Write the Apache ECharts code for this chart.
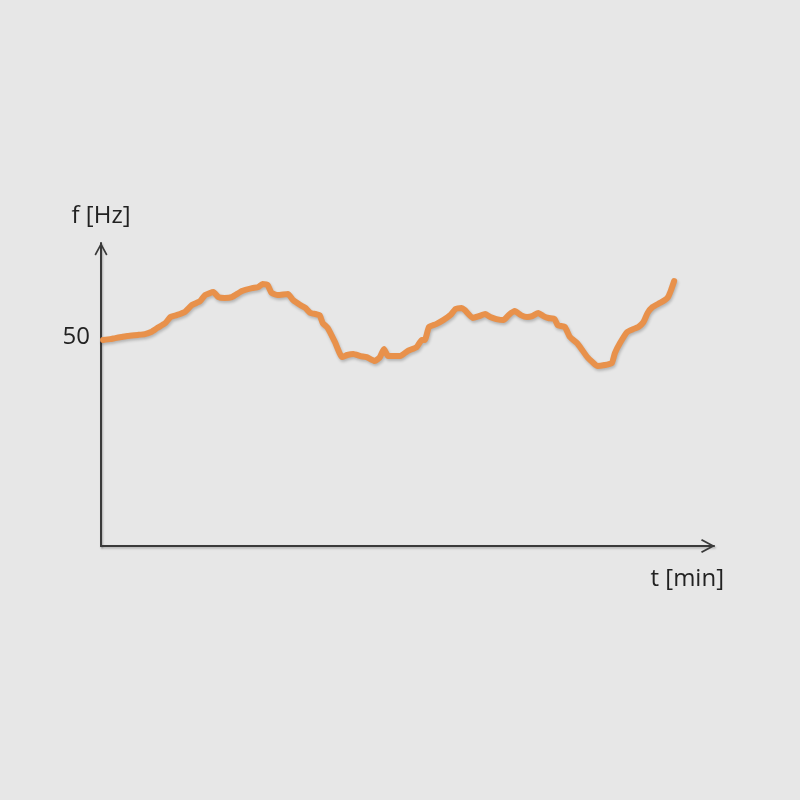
<!DOCTYPE html>
<html>
<head>
<meta charset="utf-8">
<script src="https://cdn.jsdelivr.net/npm/echarts@6/dist/echarts.min.js"></script>
<style>
html,body{margin:0;padding:0;background:#e7e7e7;}
#chart{width:800px;height:800px;}
</style>
</head>
<body>
<div id="chart"></div>
<script>
// time in minutes
var timeMin = [0.2,0.9,1.4,2.0,2.6,3.6,4.3,4.9,5.5,6.3,6.8,7.4,8.2,8.9,9.7,10.2,11.0,11.5,12.1,12.8,13.8,14.8,15.4,15.8,16.3,16.7,17.3,18.3,18.8,19.5,20.0,20.5,21.0,21.4,21.7,22.2,22.9,23.6,24.1,24.7,25.4,26.0,26.8,27.3,27.7,28.1,28.8,29.3,30.0,30.9,31.4,31.7,32.1,32.8,33.5,34.2,34.7,35.3,35.6,36.4,37.0,37.6,38.1,38.7,39.4,39.9,40.5,41.1,41.7,42.2,42.8,43.3,43.8,44.4,44.7,45.4,45.9,46.6,47.1,47.6,48.1,48.6,49.3,50.0,50.3,50.8,51.5,52.1,52.6,53.1,53.5,54.0,54.7,55.2,55.5,55.8,56.1];
// frequency in Hz
var freqHz = [49.86,49.90,49.95,50.00,50.05,50.10,50.14,50.24,50.43,50.67,50.96,51.05,51.20,51.53,51.72,52.01,52.15,51.91,51.87,51.91,52.20,52.34,52.39,52.54,52.49,52.11,52.01,52.06,51.77,51.53,51.39,51.15,51.10,51.05,50.67,50.43,49.76,49.04,49.14,49.19,49.09,49.04,48.85,49.04,49.43,49.09,49.09,49.09,49.33,49.52,49.86,49.86,50.48,50.62,50.81,51.05,51.34,51.39,51.29,50.91,51.00,51.10,50.96,50.86,50.81,51.05,51.24,51.05,50.96,51.00,51.15,51.00,50.91,50.86,50.57,50.48,50.00,49.71,49.38,49.04,48.80,48.61,48.66,48.76,49.23,49.71,50.24,50.38,50.48,50.72,51.15,51.44,51.63,51.77,51.91,52.25,52.68];
var yTickLabels = [50];
var yAxisName = 'f [Hz]';
var xAxisName = 't [min]';

var seriesData = timeMin.map(function(t,i){return [t, freqHz[i]];});
var chevron = 'path://M0,9.3 L5,0 L10,9.3 L8.9,10 L5,2.6 L1.1,10 Z';
var axisColor = '#3a3a3a';
var font = 'Open Sans';
var axisShadow = {shadowColor: 'rgba(0,0,0,0.25)', shadowBlur: 2, shadowOffsetX: 1, shadowOffsetY: 1.5};

var chart = echarts.init(document.getElementById('chart'));
chart.setOption({
  backgroundColor: '#e7e7e7',
  animation: false,
  grid: {left: 101, right: 86, top: 243, bottom: 254, containLabel: false},
  xAxis: {
    type: 'value', min: 0, max: 60,
    name: xAxisName, nameLocation: 'end', nameGap: 10,
    nameTextStyle: {fontFamily: font, fontSize: 24, color: '#222', align: 'right', verticalAlign: 'top', padding: [21,0,0,0]},
    axisLine: {onZero: false, symbol: ['none', chevron], symbolSize: [16, 14], symbolOffset: [0, -6],
      lineStyle: Object.assign({color: axisColor, width: 2}, axisShadow)},
    axisTick: {show: false}, axisLabel: {show: false}, splitLine: {show: false}
  },
  yAxis: {
    type: 'value', min: 40, max: 54.5,
    name: yAxisName, nameLocation: 'end', nameGap: 15,
    nameTextStyle: {fontFamily: font, fontSize: 24, color: '#222', align: 'center'},
    axisLine: {onZero: false, symbol: ['none', chevron], symbolSize: [16, 13], symbolOffset: [0, -6],
      lineStyle: Object.assign({color: axisColor, width: 2}, axisShadow)},
    axisTick: {show: false},
    axisLabel: {customValues: yTickLabels, fontFamily: font, fontSize: 24, color: '#222', margin: 11},
    splitLine: {show: false}
  },
  series: [{
    type: 'line',
    data: seriesData,
    showSymbol: false,
    smooth: 0.15,
    lineStyle: {color: '#e8914b', width: 6, cap: 'round', join: 'round',
      shadowColor: 'rgba(0,0,0,0.22)', shadowBlur: 3, shadowOffsetX: 1, shadowOffsetY: 2}
  }]
});
</script>
</body>
</html>
